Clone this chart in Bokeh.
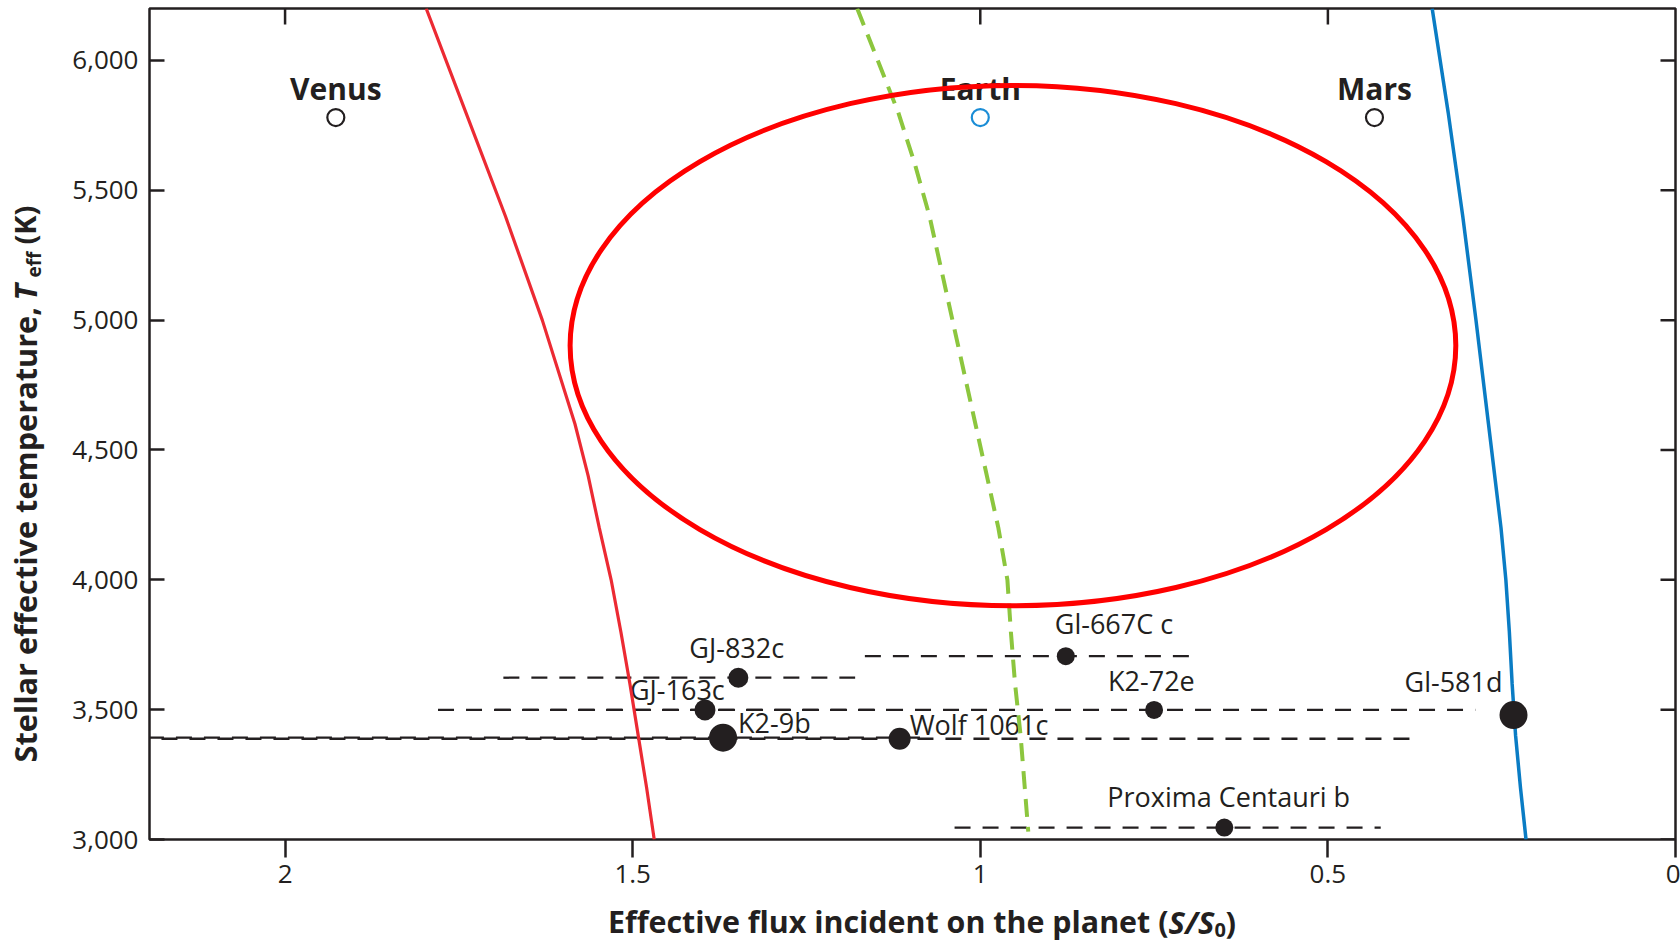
import math
from bokeh.plotting import figure
from bokeh.models import Range1d, FixedTicker, NumeralTickFormatter, ColumnDataSource
from bokeh.layouts import row, column
from bokeh.embed import file_html
from bokeh.resources import INLINE
from bokeh.core.properties import value

INK = "#231f20"

# ---------------- data ----------------
x_ticks = [2, 1.5, 1, 0.5, 0]
x_top_ticks = [2, 1, 0.5]
y_ticks = [3000, 3500, 4000, 4500, 5000, 5500, 6000]
x_start, x_end = 2.195, 0.0
y_start, y_end = 3000, 6200

planet_names = ["Venus", "Earth", "Mars"]
planet_flux = [1.927, 1.0, 0.433]
planet_teff = [5780, 5780, 5780]

exo_names = ["GJ-832c", "GJ-163c", "K2-9b", "Wolf 1061c", "Gl-667C c",
             "K2-72e", "Gl-581d", "Proxima Centauri b"]
exo_flux = [1.348, 1.396, 1.370, 1.116, 0.877, 0.750, 0.233, 0.649]
exo_teff = [3623, 3499, 3392, 3388, 3706, 3499, 3479, 3046]
exo_flux_hi = [1.686, 1.780, 2.60, 2.50, 1.166, 1.698, float("nan"), 1.037]
exo_flux_lo = [1.180, 1.134, 1.083, 0.367, 0.683, 0.288, float("nan"), 0.424]
exo_marker = [20, 21, 28, 22, 18, 18, 28, 18]

red_teff = [6200, 5800, 5400, 5000, 4600, 4400, 4200, 4000, 3800, 3600, 3400, 3200, 3000]
red_flux = [1.797, 1.740, 1.683, 1.630, 1.583, 1.564, 1.548, 1.531, 1.517, 1.504, 1.492, 1.480, 1.469]

green_teff = [6200, 5800, 5600, 5400, 5000, 4600, 4200, 4000, 3800, 3600, 3400, 3200, 3030]
green_flux = [1.177, 1.118, 1.094, 1.073, 1.040, 1.007, 0.974, 0.961, 0.956, 0.950, 0.942, 0.936, 0.931]

blue_teff = [6200, 5800, 5400, 5000, 4600, 4200, 4000, 3800, 3600, 3400, 3200, 3000]
blue_flux = [0.350, 0.327, 0.306, 0.287, 0.269, 0.251, 0.244, 0.239, 0.235, 0.230, 0.223, 0.215]

hz_center_flux = [0.953]
hz_center_teff = [4902]
hz_width_flux = 1.274
hz_height_teff = 2005

# label offsets (screen px) for the exoplanet names
exo_label_dx = [-49, -75, 15, 10, -11, -46, -109, -117]
exo_label_dy = [-30, -20, -15, -14, -33, -29, -34, -31]

# ---------------- main figure ----------------
p = figure(width=1620, height=900, output_backend="svg", toolbar_location=None,
           x_range=Range1d(x_start, x_end), y_range=Range1d(y_start, y_end),
           min_border_left=89, min_border_right=5, min_border_top=8,
           min_border_bottom=61)
p.background_fill_color = "white"
p.border_fill_color = "white"
p.outline_line_color = INK
p.outline_line_width = 2.5
p.xgrid.visible = False
p.ygrid.visible = False

xa = p.xaxis[0]
xa.ticker = FixedTicker(ticks=x_ticks)
xa.formatter = NumeralTickFormatter(format="0.[0]")
xa.axis_line_color = None
xa.major_tick_out = 18
xa.major_tick_in = 0
xa.minor_tick_out = 0
xa.minor_tick_in = 0
xa.major_tick_line_color = INK
xa.major_tick_line_width = 2.5
xa.major_label_text_font = "Open Sans"
xa.major_label_text_font_size = "26px"
xa.major_label_text_color = INK
xa.major_label_standoff = 7

ya = p.yaxis[0]
ya.ticker = FixedTicker(ticks=y_ticks)
ya.formatter = NumeralTickFormatter(format="0,0")
ya.axis_line_color = None
ya.major_tick_out = 0
ya.major_tick_in = 15
ya.minor_tick_out = 0
ya.minor_tick_in = 0
ya.major_tick_line_color = INK
ya.major_tick_line_width = 2.5
ya.major_label_text_font = "Open Sans"
ya.major_label_text_font_size = "26px"
ya.major_label_text_color = INK
ya.major_label_standoff = 11

# inward ticks on the top and right edges (half of each dash is clipped by the frame)
p.scatter([x_end] * len(y_ticks), y_ticks, marker="dash", size=30,
          line_color=INK, line_width=2.5)
p.scatter(x_top_ticks, [y_end] * len(x_top_ticks), marker="dash", angle=math.pi / 2,
          size=32, line_color=INK, line_width=2.5)

# error bars
bars = ColumnDataSource(dict(x0=exo_flux_hi, x1=exo_flux_lo, y=exo_teff))
p.segment(x0="x0", y0="y", x1="x1", y1="y", source=bars, line_color=INK,
          line_width=2.3, line_dash="16 12")

# exoplanet names
exo_src = ColumnDataSource(dict(x=exo_flux, y=exo_teff, name=exo_names,
                                dx=exo_label_dx, dy=exo_label_dy, size=exo_marker))
p.text(x="x", y="y", text="name", x_offset="dx", y_offset="dy", source=exo_src,
       text_font=value("Open Sans"), text_font_size="27px", text_color=INK,
       text_align="left", text_baseline="alphabetic")

# habitable zone boundaries
p.line(red_flux, red_teff, line_color="#ec2a33", line_width=3.2)
p.line(green_flux, green_teff, line_color="#8cc63e", line_width=4, line_dash="18 10")
p.line(blue_flux, blue_teff, line_color="#0a7cc4", line_width=3.5)

# exoplanets
p.scatter(x="x", y="y", size="size", source=exo_src, fill_color=INK,
          line_color=INK, line_width=0)

# solar-system planets
p.scatter(planet_flux, planet_teff, size=17, fill_color="white",
          line_color=[INK, "#1b8dd6", INK], line_width=2.2)
p.text(planet_flux, planet_teff, text=planet_names, y_offset=-29,
       text_font=value("Open Sans"), text_font_style="bold", text_font_size="30px",
       text_color=INK, text_align="center", text_baseline="alphabetic")

# highlighted region
p.ellipse(x=hz_center_flux, y=hz_center_teff, width=hz_width_flux,
          height=hz_height_teff, fill_color=None, line_color="#ff0000", line_width=5)


# ---------------- axis-title strips ----------------
def strip(w, h, xr, yr, left=0, right=0):
    f = figure(width=w, height=h, output_backend="svg", toolbar_location=None,
               x_range=Range1d(*xr), y_range=Range1d(*yr), min_border=0,
               min_border_left=left, min_border_right=right,
               x_axis_type=None, y_axis_type=None)
    f.outline_line_color = None
    f.background_fill_color = "white"
    f.border_fill_color = "white"
    return f


def put(f, txt, x, y, size, style, angle=0.0):
    f.text([x], [y], text=[txt], angle=angle, text_font=value("Open Sans"),
           text_font_size=size, text_font_style=style, text_color=INK,
           text_align="left", text_baseline="alphabetic")


# y title strip: x = canvas px, y = 942 - canvas px (text reads upward)
ytf = strip(60, 942, (0, 60), (0, 942))
A = math.pi / 2
put(ytf, "Stellar effective temperature,", 24, 942 - 762, "30.7px", "bold", A)
put(ytf, "T", 24, 942 - 300, "31px", "bold italic", A)
put(ytf, "eff", 33, 942 - 277, "19px", "bold", A)
put(ytf, "(K)", 24, 942 - 244, "29px", "bold", A)

# x title strip: frame aligned with the main frame (canvas px 149..1675)
xtf = strip(1620, 42, (149, 1675), (0, 42), left=89, right=5)
put(xtf, "Effective flux incident on the planet (", 607.5, 942 - 921, "30.4px", "bold")
put(xtf, "S/S", 1168, 942 - 921, "31px", "bold italic")
put(xtf, "0", 1214, 942 - 929, "20px", "bold")
put(xtf, ")", 1225, 942 - 921, "31px", "bold")

layout = row(ytf, column(p, xtf, spacing=0), spacing=0)

open("out.html", "w").write(file_html(layout, INLINE))
